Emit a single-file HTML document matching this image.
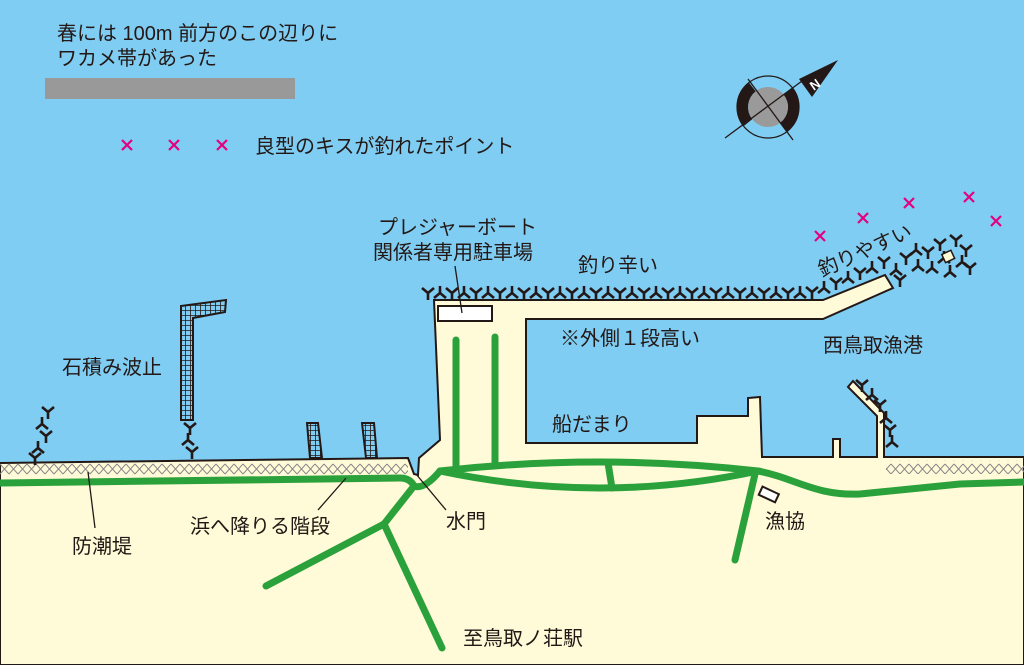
<!DOCTYPE html>
<html><head><meta charset="utf-8"><style>
html,body{margin:0;padding:0;width:1024px;height:665px;overflow:hidden;background:#7fcdf3}
svg{display:block}
text{font-family:"Liberation Sans","Noto Sans CJK JP",sans-serif;fill:#231815;font-size:20px}
</style></head><body>
<svg width="1024" height="665" viewBox="0 0 1024 665" xmlns="http://www.w3.org/2000/svg">
<defs>
<pattern id="xh" width="9" height="14" patternUnits="userSpaceOnUse">
<path d="M0,2 L9,12 M9,2 L0,12" stroke="#888" stroke-width="1"/>
</pattern>
<pattern id="grid" width="5" height="5" patternUnits="userSpaceOnUse">
<rect width="5" height="5" fill="#7fcdf3"/>
<path d="M0,0 H5 M0,0 V5" stroke="#231815" stroke-width="1.6"/>
</pattern>
<g id="tp"><path d="M0,0 L0,7 M0,0 L-6,-5 M0,0 L6,-5" stroke="#231815" stroke-width="2.6" fill="none"/></g>
<g id="tq"><path d="M0,0 L0,-7 M0,0 L-6,5 M0,0 L6,5" stroke="#231815" stroke-width="2.6" fill="none"/></g>
</defs>

<path d="M0,463 L408,458 L414,474 L418,475 L419,458 L440,440 L434,300 L823,300 L885,275 L893,288 L823,319 L526,319 L526,443 L697,443 L697,416 L748,416 L748,398 L760,397 L762,457 L833,457 L833,439 L840,439 L840,457 L877,457 L877,416 L848,387 L853,381 L884,413 L884,457 L1024,457 L1024,665 L0,665 Z" fill="#fffad8" stroke="#231815" stroke-width="2"/>
<rect x="0" y="463" width="408" height="14" fill="url(#xh)"/>
<rect x="886" y="460" width="138" height="14" fill="url(#xh)"/>

<g>
<use href="#tp" x="428" y="293"/><use href="#tq" x="440" y="293"/><use href="#tp" x="452" y="293"/><use href="#tq" x="464" y="293"/><use href="#tp" x="476" y="293"/><use href="#tq" x="488" y="293"/><use href="#tp" x="500" y="293"/><use href="#tq" x="512" y="293"/><use href="#tp" x="524" y="293"/><use href="#tq" x="536" y="293"/><use href="#tp" x="548" y="293"/><use href="#tq" x="560" y="293"/><use href="#tp" x="572" y="293"/><use href="#tq" x="584" y="293"/><use href="#tp" x="596" y="293"/><use href="#tq" x="608" y="293"/><use href="#tp" x="620" y="293"/><use href="#tq" x="632" y="293"/><use href="#tp" x="644" y="293"/><use href="#tq" x="656" y="293"/><use href="#tp" x="668" y="293"/><use href="#tq" x="680" y="293"/><use href="#tp" x="692" y="293"/><use href="#tq" x="704" y="293"/><use href="#tp" x="716" y="293"/><use href="#tq" x="728" y="293"/><use href="#tp" x="740" y="293"/><use href="#tq" x="752" y="293"/><use href="#tp" x="764" y="293"/><use href="#tq" x="776" y="293"/><use href="#tp" x="788" y="293"/><use href="#tq" x="800" y="293"/><use href="#tp" x="812" y="292"/><use href="#tq" x="824" y="288"/><use href="#tp" x="836" y="283"/><use href="#tq" x="848" y="278"/><use href="#tp" x="860" y="273"/><use href="#tq" x="872" y="268"/>
<use href="#tp" x="884" y="262"/><use href="#tq" x="896" y="270"/><use href="#tp" x="906" y="258"/><use href="#tq" x="918" y="266"/><use href="#tp" x="928" y="252"/><use href="#tq" x="916" y="250"/><use href="#tp" x="940" y="244"/><use href="#tq" x="932" y="268"/><use href="#tp" x="956" y="240"/><use href="#tq" x="962" y="262"/><use href="#tp" x="966" y="250"/><use href="#tq" x="950" y="272"/><use href="#tp" x="900" y="280"/><use href="#tq" x="944" y="258"/><use href="#tp" x="970" y="268"/>
<use href="#tp" x="862" y="385"/><use href="#tq" x="872" y="395"/><use href="#tp" x="880" y="405"/><use href="#tq" x="886" y="418"/><use href="#tp" x="890" y="430"/><use href="#tq" x="892" y="442"/>
<use href="#tp" x="48" y="412"/><use href="#tq" x="42" y="424"/><use href="#tp" x="46" y="436"/><use href="#tq" x="38" y="448"/><use href="#tp" x="35" y="458"/>
<use href="#tp" x="190" y="428"/><use href="#tq" x="188" y="440"/><use href="#tp" x="192" y="452"/>
</g>
<rect x="943" y="252" width="10" height="9" fill="#fffad8" stroke="#231815" stroke-width="1.5" transform="rotate(-25 948 256)"/>

<path d="M181,306 L226,300 L225,312 L193,318 L193,420 L181,420 Z" fill="url(#grid)" stroke="#231815" stroke-width="2"/>
<path d="M307,423 L318,423 L322,458 L310,458 Z" fill="url(#grid)" stroke="#231815" stroke-width="2"/>
<path d="M362,423 L374,423 L377,458 L366,458 Z" fill="url(#grid)" stroke="#231815" stroke-width="2"/>

<g stroke="#2aa13a" stroke-width="7" fill="none" stroke-linecap="round" stroke-linejoin="round">
<path d="M0,483 L400,478 Q410,478 414,486 Q424,490 440,471"/>
<path d="M440,471 Q600,453 758,471"/>
<path d="M440,471 Q600,505 758,471"/>
<path d="M608,463 L612,488"/>
<path d="M758,471 C795,478 815,496 860,494 L960,484 L1024,482"/>
<path d="M755,474 L735,560"/>
<path d="M456,340 L456,467"/>
<path d="M495,337 L495,465"/>
<path d="M414,486 L384,524 L442,648"/>
<path d="M384,524 L266,586"/>
</g>

<rect x="438" y="306" width="54" height="15" fill="#fff" stroke="#231815" stroke-width="2"/>
<rect x="760" y="490" width="18" height="9" fill="#fff" stroke="#231815" stroke-width="2" transform="rotate(25 769 494)"/>

<g stroke="#231815" stroke-width="1.3">
<line x1="455" y1="266" x2="462" y2="313"/>
<line x1="88" y1="472" x2="95" y2="528"/>
<line x1="346" y1="478" x2="318" y2="510"/>
<line x1="416" y1="474" x2="446" y2="510"/>
</g>

<g>
<circle cx="768" cy="107" r="20" fill="#9a9a9a"/>
<circle cx="768" cy="107" r="31" fill="none" stroke="#231815" stroke-width="1.2"/>
<path d="M743.6,126.1 A31,31 0 0 1 748.9,82.6 L755.7,91.2 A20,20 0 0 0 752.2,119.3 Z" fill="#231815"/>
<path d="M792.4,87.9 A31,31 0 0 1 787.1,131.4 L780.3,122.8 A20,20 0 0 0 783.8,94.7 Z" fill="#231815"/>
<line x1="725" y1="138" x2="802" y2="81" stroke="#231815" stroke-width="1.3"/>
<line x1="748" y1="79" x2="793" y2="140" stroke="#231815" stroke-width="1.3"/>
<path d="M799,79 L838,60 L812,97 Z" fill="#231815"/>
<text x="810" y="89" font-size="13" style="fill:#fff;font-weight:bold;font-size:13px" transform="rotate(-35 815 84)">N</text>
</g>

<rect x="45" y="78" width="250" height="21" fill="#999"/>

<g stroke="#e4007f" stroke-width="2.2">
<path d="M122,140 l10,10 m0,-10 l-10,10"/>
<path d="M169,140 l10,10 m0,-10 l-10,10"/>
<path d="M217,140 l10,10 m0,-10 l-10,10"/>
<path d="M815,231 l10,10 m0,-10 l-10,10"/>
<path d="M858,213 l10,10 m0,-10 l-10,10"/>
<path d="M904,198 l10,10 m0,-10 l-10,10"/>
<path d="M964,192 l10,10 m0,-10 l-10,10"/>
<path d="M991,216 l10,10 m0,-10 l-10,10"/>
</g>

<text x="57" y="40">春には 100m 前方のこの辺りに</text>
<text x="57" y="65">ワカメ帯があった</text>
<text x="255" y="153">良型のキスが釣れたポイント</text>
<text x="378" y="234">プレジャーボート</text>
<text x="373" y="259">関係者専用駐車場</text>
<text x="578" y="272">釣り辛い</text>
<text x="822" y="277" transform="rotate(-24 822 277)">釣りやすい</text>
<text x="560" y="345">※外側１段高い</text>
<text x="823" y="352">西鳥取漁港</text>
<text x="62" y="374">石積み波止</text>
<text x="552" y="431">船だまり</text>
<text x="72" y="553">防潮堤</text>
<text x="190" y="533">浜へ降りる階段</text>
<text x="446" y="528">水門</text>
<text x="765" y="528">漁協</text>
<text x="463" y="645">至鳥取ノ荘駅</text>
</svg>
</body></html>
